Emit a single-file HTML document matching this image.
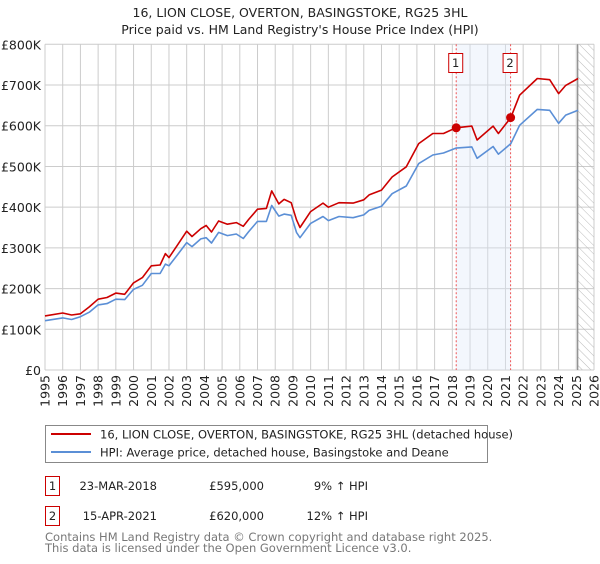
<!DOCTYPE html>
<html><head><meta charset="utf-8"><style>
body{margin:0;background:#fff;font-family:"DejaVu Sans","Liberation Sans",sans-serif;}
svg text{font-family:"DejaVu Sans","Liberation Sans",sans-serif;}
</style></head><body>
<svg id="chart" width="600" height="560" viewBox="0 0 600 560" xmlns="http://www.w3.org/2000/svg">
<defs><pattern id="hatch" width="6" height="6" patternUnits="userSpaceOnUse" patternTransform="rotate(-45)"><line x1="0" y1="0" x2="0" y2="6" stroke="#bbb" stroke-width="1"/></pattern></defs>
<text x="300" y="17" text-anchor="middle" font-size="12.5" fill="#222">16, LION CLOSE, OVERTON, BASINGSTOKE, RG25 3HL</text>
<text x="300" y="34" text-anchor="middle" font-size="12.5" fill="#222">Price paid vs. HM Land Registry's House Price Index (HPI)</text>
<g id="grid"></g><g id="shade"></g><g id="series"></g><g id="axes"></g>
<rect x="45.5" y="425.5" width="442" height="37" fill="#fff" stroke="#888"/>
<line x1="51" y1="434" x2="91" y2="434" stroke="#cc0000" stroke-width="2"/>
<text x="100" y="438.5" font-size="11.5" fill="#222">16, LION CLOSE, OVERTON, BASINGSTOKE, RG25 3HL (detached house)</text>
<line x1="51" y1="452" x2="91" y2="452" stroke="#5b8fd6" stroke-width="2"/>
<text x="100" y="456.5" font-size="11.5" fill="#222">HPI: Average price, detached house, Basingstoke and Deane</text>
<g font-size="11.5" fill="#222">
<rect x="45.5" y="476.5" width="14" height="19" fill="#fff" stroke="#cc0000"/><text x="52.5" y="490" text-anchor="middle">1</text>
<text x="157" y="490" text-anchor="end">23-MAR-2018</text><text x="264" y="490" text-anchor="end">£595,000</text><text x="368" y="490" text-anchor="end">9% ↑ HPI</text></g>
<g font-size="11.5" fill="#222">
<rect x="45.5" y="506.5" width="14" height="19" fill="#fff" stroke="#cc0000"/><text x="52.5" y="520" text-anchor="middle">2</text>
<text x="157" y="520" text-anchor="end">15-APR-2021</text><text x="264" y="520" text-anchor="end">£620,000</text><text x="368" y="520" text-anchor="end">12% ↑ HPI</text></g>
<text x="45" y="541" font-size="11.5" fill="#777">Contains HM Land Registry data © Crown copyright and database right 2025.</text>
<text x="45" y="552" font-size="11.5" fill="#777">This data is licensed under the Open Government Licence v3.0.</text>
</svg>
<script>
const years=[1995,1996,1997,1998,1999,2000,2001,2002,2003,2004,2005,2006,2007,2008,2009,2010,2011,2012,2013,2014,2015,2016,2017,2018,2019,2020,2021,2022,2023,2024,2025,2026];
const yTicks=[0,100000,200000,300000,400000,500000,600000,700000,800000];
const yTickLabels=["£0","£100K","£200K","£300K","£400K","£500K","£600K","£700K","£800K"];
const dates=[1995.0,1996.0,1996.5,1997.0,1997.5,1998.0,1998.5,1999.0,1999.5,2000.0,2000.5,2001.0,2001.5,2001.8,2002.0,2002.5,2003.0,2003.3,2003.8,2004.1,2004.4,2004.8,2005.3,2005.8,2006.2,2006.5,2007.0,2007.5,2007.8,2008.2,2008.5,2008.9,2009.2,2009.4,2010.0,2010.7,2011.0,2011.6,2012.4,2013.0,2013.3,2014.0,2014.6,2015.4,2016.1,2016.9,2017.5,2018.2,2019.1,2019.4,2020.3,2020.6,2021.3,2021.8,2022.8,2023.5,2024.0,2024.4,2025.1];
const hpiValues=[121,128,124,131,142,160,163,174,173,198,208,237,237,260,256,284,313,303,322,325,312,338,330,334,323,340,365,365,404,378,383,380,338,325,360,377,367,377,374,381,392,402,433,452,507,528,533,545,548,520,549,530,556,601,640,638,606,626,638];
const propValues=[133,140,135,138,155,174,178,189,186,214,227,256,258,286,276,308,341,328,347,355,339,366,358,362,353,370,395,397,440,408,419,411,369,350,389,410,400,411,410,418,430,442,474,499,556,581,581,595,599,565,599,581,620,675,716,713,679,699,716];
const saleDates=[2018.22,2021.29];
const saleValues=[595000,620000];
const saleLabels=["1","2"];
const dataEnd=2025.08;
const L=45,R=594,T=44.3,B=370;
const X=y=>L+(y-1995)/(2026-1995)*(R-L);
const Y=v=>B-v/800000*(B-T);
const NS="http://www.w3.org/2000/svg";
function mk(parent,tag,attrs){const e=document.createElementNS(NS,tag);for(const k in attrs)e.setAttribute(k,attrs[k]);document.getElementById(parent).appendChild(e);return e;}
yTicks.forEach((v,i)=>{
 const g=mk('grid','line',{x1:L,x2:R,y1:Y(v),y2:Y(v),stroke:'#cccccc','stroke-width':1});
 
 
 const t=mk('axes','text',{x:L-4,y:Y(v)+5,'text-anchor':'end','font-size':12.5,fill:'#222'});
 t.textContent=yTickLabels[i];
 
 
});
years.forEach(yr=>{
 const g=mk('grid','line',{x1:X(yr),x2:X(yr),y1:T,y2:B,stroke:'#cccccc','stroke-width':1});
 
 
 const t=mk('axes','text',{x:0,y:0,'text-anchor':'end','font-size':12.5,fill:'#222',transform:`translate(${X(yr)+4.5},${B+5}) rotate(-90)`});
 t.textContent=yr;
 
 
});
const sh=mk('shade','rect',{x:X(saleDates[0]),y:T,width:X(saleDates[1])-X(saleDates[0]),height:B-T,fill:'#dde7f8','fill-opacity':0.35});


const ht=mk('shade','rect',{x:X(dataEnd),y:T,width:R-X(dataEnd),height:B-T,fill:'url(#hatch)'});


const el=mk('shade','line',{x1:X(dataEnd),x2:X(dataEnd),y1:T,y2:B,stroke:'#888','stroke-width':1.2});


saleDates.forEach((d,i)=>{
 const l=mk('shade','line',{x1:X(d),x2:X(d),y1:T,y2:B,stroke:'#ee5555','stroke-width':1,'stroke-dasharray':'2,2'});
 
 
 const r=mk('series','rect',{x:X(d)-7.5,y:53.5,width:14,height:19,fill:'#fff',stroke:'#cc0000'});
 
 
 const t=mk('series','text',{x:X(d)-0.5,y:67,'text-anchor':'middle','font-size':11.5,fill:'#222'});
 t.textContent=saleLabels[i];
 
 
});
const pts=a=>dates.map((d,i)=>X(d).toFixed(1)+','+Y(a[i]*1000).toFixed(1)).join(' ');
const hp=mk('series','polyline',{points:pts(hpiValues),fill:'none',stroke:'#5b8fd6','stroke-width':1.6,'stroke-linejoin':'round'});


const pp=mk('series','polyline',{points:pts(propValues),fill:'none',stroke:'#cc0000','stroke-width':1.6,'stroke-linejoin':'round'});


saleDates.forEach((d,i)=>{
 const c=mk('series','circle',{cx:X(d),cy:Y(saleValues[i]),r:4.5,fill:'#cc0000'});
 
 
});
</script>
</body></html>
